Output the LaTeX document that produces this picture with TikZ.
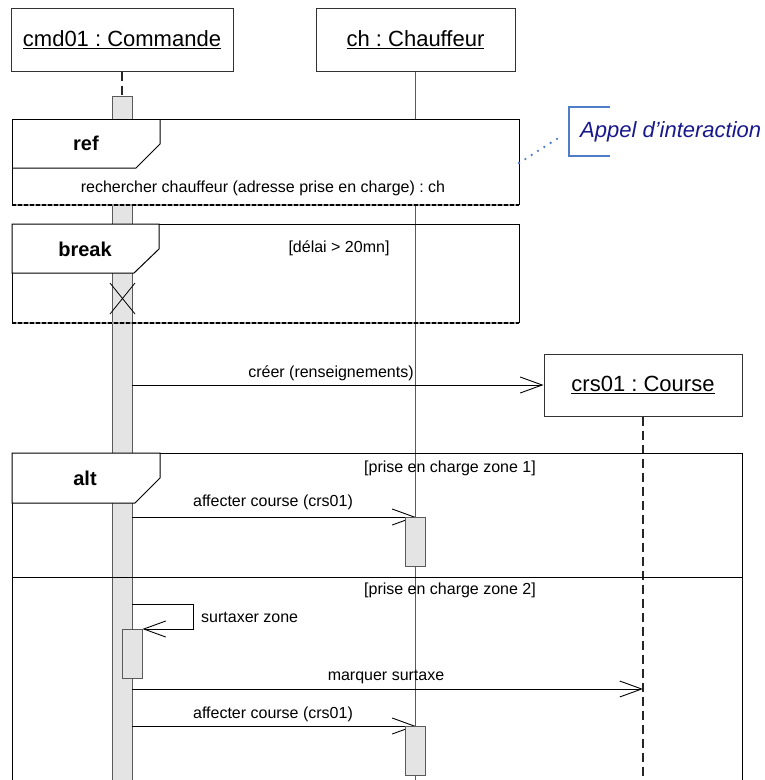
\documentclass[tikz,border=0pt]{standalone}
\usepackage{fontspec}
\setmainfont{Liberation Sans}
\usetikzlibrary{arrows.meta}
\frenchspacing
\definecolor{lifegray}{RGB}{90,90,90}
\definecolor{barfill}{RGB}{228,228,228}
\definecolor{notenavy}{RGB}{24,24,140}
\definecolor{noteblue}{RGB}{80,125,200}
\tikzset{
  objbox/.style={draw=black!80, line width=1pt, fill=white, minimum height=63pt, inner sep=0pt, font=\fontsize{22}{26}\selectfont},
  actbar/.style={draw=lifegray, fill=barfill, line width=0.9pt, minimum width=20pt, inner sep=0pt, anchor=north},
  life/.style={draw=lifegray, line width=1pt},
  dlife/.style={draw=black!85, line width=1.4pt, dash pattern=on 9pt off 5pt},
  framel/.style={draw=black, line width=1pt},
  lbl/.style={font=\fontsize{16}{19}\selectfont, inner sep=0pt},
  oplbl/.style={font=\bfseries\fontsize{20}{24}\selectfont, inner sep=0pt},
  msg/.style={draw=black, line width=0.9pt, -{Straight Barb[length=22pt,width=16pt,line width=0.9pt]}},
  endline/.style={line width=2pt},
}
\begin{document}
\begin{tikzpicture}[x=1pt,y=-1pt]
\useasboundingbox (0,0) rectangle (765,780);
\clip (0,0) rectangle (765,780);
\coordinate (bottom) at (0,800);

% objects
\node[objbox, minimum width=222pt] (cmd) at (122,39.5) {\underline{cmd01 : Commande}};
\node[objbox, minimum width=199pt] (ch) at (415.5,39.5) {\underline{ch : Chauffeur}};

% lifelines
\draw[life] (ch.south) -- (ch.south |- bottom);
\node[actbar, minimum height=720pt] (cmdbar) at (122,96) {};
\draw[dlife] (cmd.south) -- (cmdbar.north);

% ref frame
\fill[white] (12,119) rectangle (519,205);
\draw[framel] (12,205) -- (12,119) -- (519,119) -- (519,205);
\draw[framel] (160,119) -- (160,144) -- (136,168) -- (12,168);
\draw[endline, black!40] (12,205) -- (519,205);
\draw[endline, black, dash pattern=on 4pt off 2pt] (12,205) -- (519,205);
\node[oplbl] (reflbl) at (86,143) {ref};
\node[lbl] (reftxt) at (263,188) {rechercher chauffeur (adresse prise en charge) : ch};

% note
\coordinate (notestart) at (519,163);
\coordinate (noteend) at (563,135);
\draw[noteblue, line width=1.3pt] (610,107) -- (569,107) -- (569,156) -- (610,156);
\node[anchor=west, inner sep=0pt, text=notenavy, font=\itshape\fontsize{22}{26}\selectfont] (appel) at (580,132) {Appel d’interaction};
\draw[noteblue, line width=2.6pt, line cap=round, dash pattern=on 0pt off 7.5pt] (notestart) -- (noteend);

% break frame
\draw[framel] (12,323) -- (12,224) -- (519,224) -- (519,323);
\filldraw[framel, fill=white] (12,224) -- (159,224) -- (159,249) -- (134,273) -- (12,273) -- cycle;
\draw[endline, black!40] (12,323) -- (519,323);
\draw[endline, black, dash pattern=on 4pt off 2pt] (12,323) -- (519,323);
\node[oplbl] (brklbl) at (85,249) {break};
\node[lbl] (brkguard) at (339,248) {[délai > 20mn]};
\coordinate (x1) at (110,283);
\coordinate (x2) at (135,314);
\draw[black, line width=0.8pt] (x1) -- (x2) (x1 |- x2) -- (x2 |- x1);

% creation
\node[objbox, minimum width=198pt, minimum height=62pt] (crs) at (643,385) {\underline{crs01 : Course}};
\draw[dlife] (crs.south) -- (crs.south |- bottom);
\draw[msg] (cmdbar.east |- crs.west) -- (crs.west);
\node[lbl] (creer) at (331,373) {créer (renseignements)};

% alt frame
\draw[framel] (12,800) -- (12,453) -- (742,453) -- (742,800);
\draw[framel] (12,577) -- (742,577);
\filldraw[framel, fill=white] (12,453) -- (160,453) -- (160,478) -- (135,503) -- (12,503) -- cycle;
\node[oplbl] (altlbl) at (85,478) {alt};
\node[lbl] (guard1) at (450,468) {[prise en charge zone 1]};
\node[lbl] (guard2) at (450,590) {[prise en charge zone 2]};

% operand 1
\coordinate (chb1) at (415.5,517);
\draw[msg] (cmdbar.east |- chb1) -- (chb1);
\node[actbar, minimum height=49pt] (chbar1) at (chb1) {};
\node[lbl] (aff1) at (273,502) {affecter course (crs01)};

% operand 2
\node[actbar, minimum height=49pt] (selfbar) at (132,629) {};
\coordinate (s1) at (193,604);
\draw[msg] (cmdbar.east |- s1) -- (s1) -- (s1 |- selfbar.north east) -- (selfbar.north east);
\node[lbl, anchor=west] (surt) at (201,617) {surtaxer zone};

\coordinate (mk) at (0,689);
\draw[msg] (cmdbar.east |- mk) -- (crs.south |- mk);
\node[lbl] (marq) at (386,677) {marquer surtaxe};

\coordinate (chb2) at (415.5,726);
\draw[msg] (cmdbar.east |- chb2) -- (chb2);
\node[actbar, minimum height=49pt] (chbar2) at (chb2) {};
\node[lbl] (aff2) at (273,714) {affecter course (crs01)};
\end{tikzpicture}
\end{document}
